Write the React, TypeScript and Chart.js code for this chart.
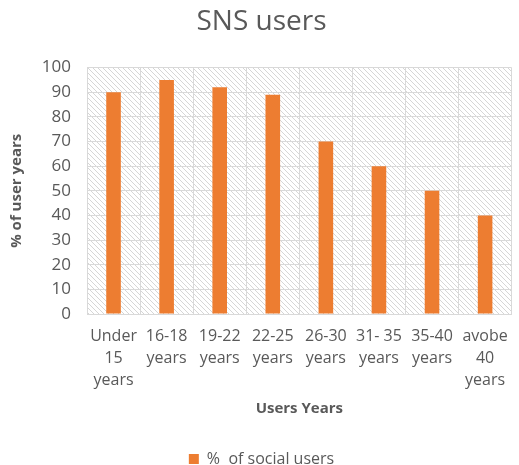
import React, { useEffect, useRef } from "react";
import { Chart, registerables } from "chart.js";

Chart.register(...registerables);

const categories: string[][] = [
  ["Under", "15", "years"],
  ["16-18", "years"],
  ["19-22", "years"],
  ["22-25", "years"],
  ["26-30", "years"],
  ["31- 35", "years"],
  ["35-40", "years"],
  ["avobe", "40", "years"],
];
const socialUsers: number[] = [90, 95, 92, 89, 70, 60, 50, 40];
const seriesLabel = "%  of social users";
const chartTitle = "SNS users";
const yTitle = "% of user years";
const xTitle = "Users Years";

const FONT = "'Open Sans', 'Liberation Sans', sans-serif";
const TEXT = "#595959";
const GRID = "#d9d9d9";
const BAR = "#ED7D31";

const hatchPlugin = {
  id: "hatchBg",
  beforeDraw(chart: any) {
    const { ctx, chartArea } = chart;
    if (!chartArea) return;
    const pc = document.createElement("canvas");
    pc.width = 5;
    pc.height = 5;
    const p = pc.getContext("2d")!;
    p.fillStyle = "#ffffff";
    p.fillRect(0, 0, 5, 5);
    p.strokeStyle = "#d6d6d6";
    p.lineWidth = 1;
    p.beginPath();
    p.moveTo(-1, -1);
    p.lineTo(6, 6);
    p.moveTo(-6, -1);
    p.lineTo(1, 6);
    p.moveTo(4, -1);
    p.lineTo(11, 6);
    p.stroke();
    const pat = ctx.createPattern(pc, "repeat");
    ctx.save();
    ctx.fillStyle = pat;
    ctx.fillRect(chartArea.left, chartArea.top, chartArea.right - chartArea.left, chartArea.bottom - chartArea.top);
    ctx.restore();
  },
};

export default function App() {
  const ref = useRef<HTMLCanvasElement | null>(null);
  useEffect(() => {
    if (!ref.current) return;
    const chart = new Chart(ref.current, {
      type: "bar",
      data: {
        labels: categories,
        datasets: [
          {
            label: seriesLabel,
            data: socialUsers,
            backgroundColor: BAR,
            borderWidth: 0,
            barPercentage: 0.55,
            categoryPercentage: 0.5,
          },
        ],
      },
      options: {
        responsive: false,
        animation: false,
        layout: { padding: { top: 5, right: 4, bottom: -12, left: 8 } },
        plugins: {
          title: {
            display: true,
            text: chartTitle,
            color: TEXT,
            font: { family: FONT, size: 28, weight: "normal", lineHeight: 1.2 },
            padding: { top: 0, bottom: 29 },
          },
          legend: {
            display: true,
            position: "bottom",
            labels: {
              color: TEXT,
              font: { family: FONT, size: 16 },
              boxWidth: 10,
              boxHeight: 10,
              padding: 4,
            },
          },
          tooltip: { enabled: false },
        },
        scales: {
          x: {
            grid: { color: GRID, lineWidth: 1, drawTicks: false, offset: true },
            border: { color: GRID },
            ticks: {
              color: TEXT,
              font: { family: FONT, size: 16, lineHeight: 1.375 },
              padding: 11,
              maxRotation: 0,
              autoSkip: false,
            },
            title: {
              display: true,
              text: xTitle,
              color: TEXT,
              font: { family: FONT, size: 15, weight: "bold" },
              padding: { top: 4, bottom: 29 },
            },
            afterFit(scale: any) {
              scale.height = 133;
            },
          },
          y: {
            min: 0,
            max: 100,
            ticks: {
              stepSize: 10,
              color: TEXT,
              font: { family: FONT, size: 17 },
              padding: 16,
            },
            grid: { color: GRID, lineWidth: 1, drawTicks: false },
            border: { color: GRID },
            title: {
              display: true,
              text: yTitle,
              color: TEXT,
              font: { family: FONT, size: 15, weight: "bold" },
              padding: { top: 0, bottom: 4 },
            },
            afterFit(scale: any) {
              scale.width = 79;
            },
          },
        },
      },
      plugins: [hatchPlugin],
    });
    return () => chart.destroy();
  }, []);
  return (
    <div style={{ position: "fixed", left: 0, top: 0, width: 519, height: 465, background: "#fff" }}>
      <canvas ref={ref} width={519} height={465} />
    </div>
  );
}
